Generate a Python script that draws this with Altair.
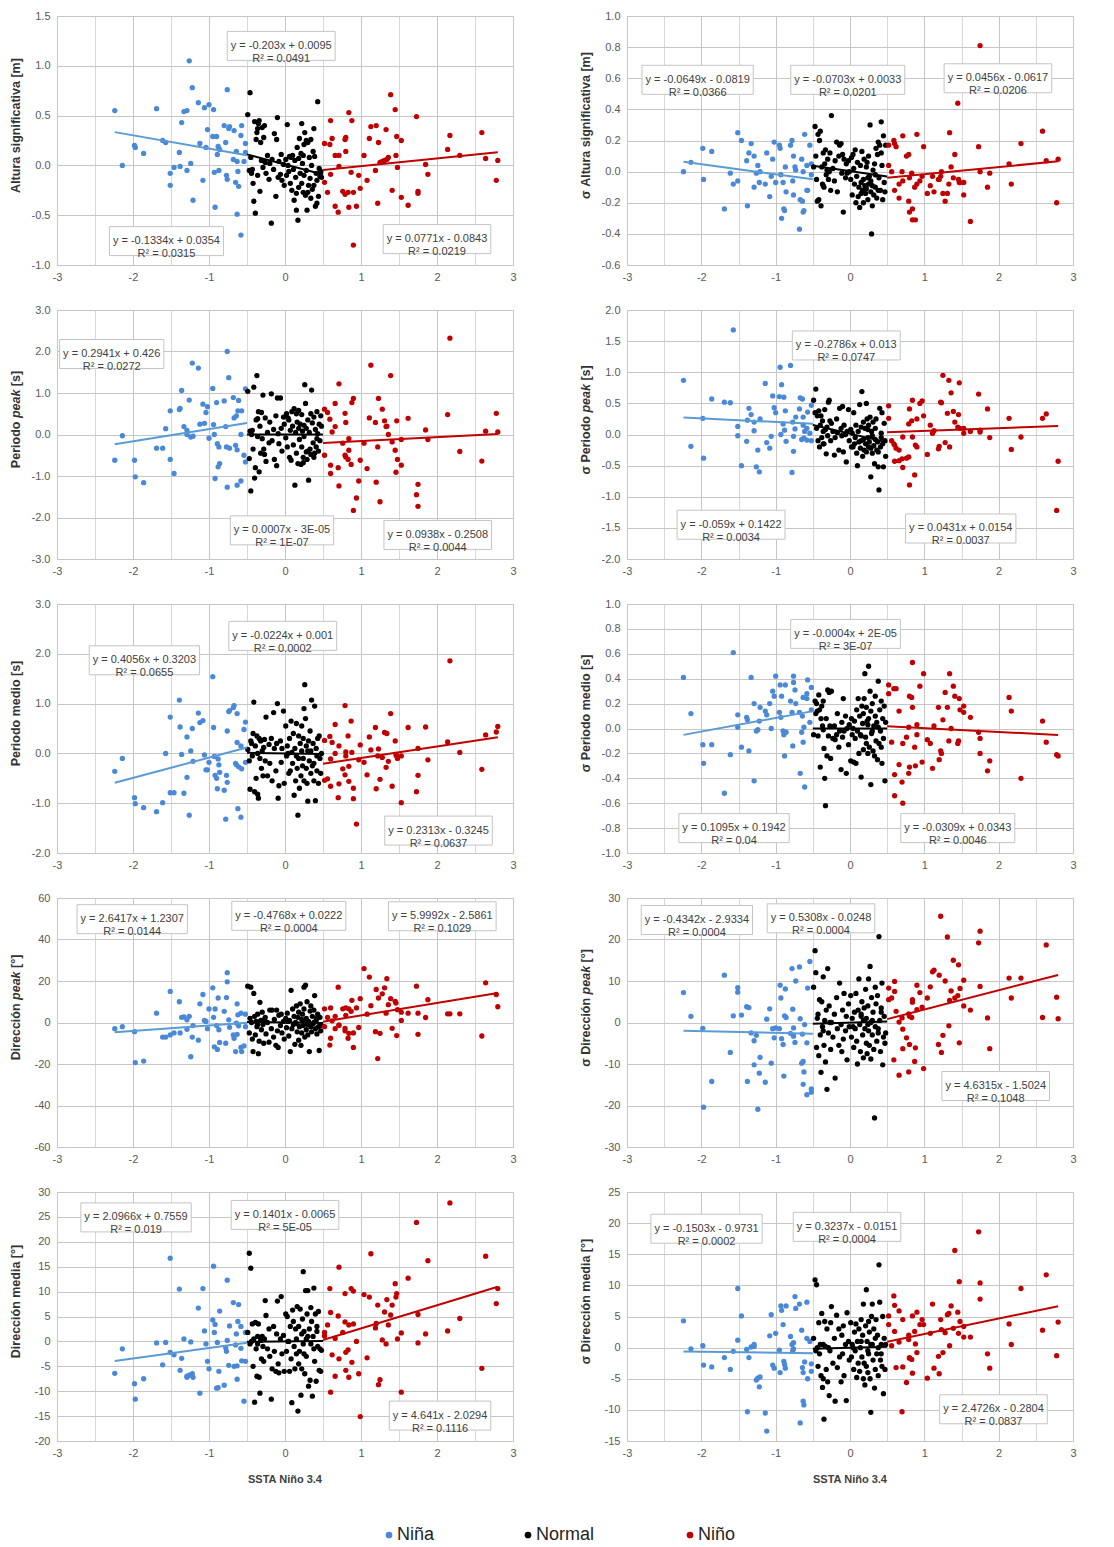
import altair as alt
import pandas as pd

GROUPS = ["Niña", "Normal", "Niño"]

# ---------------- shared SSTA Niño 3.4 values (x) ----------------
NINA_X = [-2.24, -2.14, -1.98, -1.97, -1.86, -1.69, -1.61, -1.57, -1.51, -1.51,
          -1.46, -1.39, -1.38, -1.36, -1.33, -1.29, -1.29, -1.26, -1.24, -1.22,
          -1.21, -1.14, -1.12, -1.08, -1.06, -1.04, -1.02, -1.00, -0.95, -0.94,
          -0.93, -0.92, -0.90, -0.89, -0.88, -0.87, -0.86, -0.80, -0.78, -0.77,
          -0.76, -0.76, -0.74, -0.73, -0.68, -0.67, -0.65, -0.64, -0.63, -0.63,
          -0.62, -0.61, -0.58, -0.58, -0.57, -0.54, -0.52, -0.52]
NORMAL_X = [-0.49, -0.47, -0.46, -0.45, -0.43, -0.42, -0.41, -0.40, -0.39, -0.38,
            -0.37, -0.36, -0.35, -0.34, -0.33, -0.32, -0.31, -0.30, -0.29, -0.28,
            -0.26, -0.25, -0.23, -0.21, -0.20, -0.18, -0.17, -0.15, -0.14, -0.12,
            -0.11, -0.10, -0.09, -0.08, -0.06, -0.05, -0.04, -0.02, -0.01, 0.01,
            0.02, 0.03, 0.05, 0.06, 0.07, 0.08, 0.09, 0.10, 0.11, 0.12,
            0.13, 0.14, 0.15, 0.16, 0.17, 0.18, 0.18, 0.19, 0.20, 0.21,
            0.22, 0.22, 0.23, 0.24, 0.25, 0.25, 0.26, 0.27, 0.28, 0.28,
            0.29, 0.30, 0.31, 0.32, 0.33, 0.34, 0.34, 0.35, 0.36, 0.37,
            0.38, 0.39, 0.40, 0.41, 0.42, 0.43, 0.44, 0.45, 0.46, 0.47,
            -0.44, -0.36, -0.27, 0.04, 0.15, 0.24, 0.30, 0.38, 0.42, 0.48]
NINO_X = [0.52, 0.52, 0.56, 0.59, 0.60, 0.60, 0.62, 0.66, 0.66, 0.70,
          0.71, 0.71, 0.76, 0.79, 0.79, 0.80, 0.80, 0.83, 0.84, 0.84,
          0.87, 0.88, 0.90, 0.90, 0.94, 0.97, 0.99, 1.04, 1.08, 1.11,
          1.13, 1.19, 1.20, 1.22, 1.23, 1.25, 1.28, 1.31, 1.33, 1.34,
          1.36, 1.39, 1.41, 1.45, 1.46, 1.47, 1.48, 1.53, 1.53, 1.62,
          1.73, 1.75, 1.75, 1.85, 1.88, 2.14, 2.17, 2.30, 2.59, 2.64,
          2.78, 2.80]

# ---------------- Altura significativa [m] ----------------
HS_NINA = [0.55, 0.00, 0.20, 0.18, 0.12, 0.57, 0.25, 0.23, -0.08, -0.20,
           -0.02, 0.13, -0.01, 0.43, 0.54, 0.55, -0.05, 1.05, 0.02, 0.78,
           -0.35, 0.63, 0.22, -0.15, 0.58, 0.18, 0.36, 0.61, 0.29, 0.56,
           -0.07, -0.42, 0.29, 0.11, 0.19, -0.05, 0.16, 0.40, 0.23, -0.10,
           0.76, -0.14, 0.37, 0.39, 0.06, 0.35, -0.17, 0.14, 0.04, -0.49,
           -0.06, -0.21, 0.30, -0.70, 0.40, 0.04, 0.22, 0.13]
HS_NORMAL = [0.51, -0.05, 0.73, 0.08, -0.04, -0.18, -0.36, 0.44, -0.48, 0.26,
             0.33, -0.10, 0.42, 0.45, -0.26, 0.23, 0.05, 0.38, -0.02, 0.28,
             0.03, -0.08, 0.10, -0.14, 0.02, -0.58, 0.06, -0.04, 0.32, -0.31,
             0.26, 0.48, -0.12, 0.04, -0.09, 0.11, -0.15, 0.01, -0.20, 0.06,
             -0.10, 0.41, -0.06, 0.09, -0.18, 0.08, -0.25, 0.10, -0.04, -0.35,
             0.05, -0.12, -0.45, 0.18, -0.55, 0.07, -0.22, 0.27, -0.08, 0.12,
             0.42, -0.18, 0.02, -0.27, 0.21, -0.10, 0.33, -0.30, 0.25, -0.05,
             -0.45, 0.23, -0.20, 0.08, -0.13, 0.26, -0.33, 0.00, -0.24, 0.14,
             0.37, 0.09, -0.41, -0.08, -0.15, 0.64, -0.31, -0.03, -0.11, -0.06,
             -0.08, 0.37, 0.40, 0.00, -0.28, 0.10, -0.27, -0.20, -0.38, -0.12]
HS_NINO = [0.22, -0.17, -0.27, 0.21, 0.45, -0.09, 0.27, -0.41, 0.10, -0.47,
           0.10, -0.01, -0.26, -0.29, 0.26, 0.28, 0.14, -0.27, 0.53, -0.42,
           -0.07, 0.45, -0.27, -0.80, -0.41, -0.10, -0.23, 0.10, -0.15, 0.27,
           0.39, -0.05, 0.40, -0.38, 0.23, 0.03, 0.04, 0.05, 0.36, 0.06,
           0.08, 0.71, -0.25, 0.56, 0.10, 0.29, -0.02, 0.25, -0.32, -0.40,
           0.49, -0.26, -0.28, 0.01, -0.09, 0.16, 0.30, 0.10, 0.33, 0.07,
           -0.15, 0.05]

# ---------------- σ Altura significativa [m] ----------------
SDHS_NINA = [0.00, 0.06, 0.15, -0.05, 0.13, -0.24, -0.01, -0.08, 0.25, -0.06,
             0.20, 0.07, -0.22, 0.12, 0.18, 0.10, -0.10, -0.01, 0.04, -0.07,
             0.00, -0.08, 0.12, -0.16, -0.03, 0.08, 0.19, -0.07, 0.17, 0.15,
             -0.02, -0.30, -0.07, -0.24, -0.25, 0.03, -0.13, 0.17, 0.20, -0.06,
             0.10, -0.15, 0.03, 0.01, -0.37, -0.18, 0.08, -0.19, -0.26, 0.00,
             -0.25, 0.24, 0.04, -0.12, -0.12, 0.17, 0.05, -0.02]
SDHS_NORMAL = [0.03, 0.29, 0.10, -0.05, 0.24, -0.18, 0.20, 0.26, -0.22, 0.03,
               -0.08, 0.12, -0.10, 0.05, 0.14, -0.02, 0.01, 0.08, -0.05, 0.00,
               -0.12, 0.36, 0.02, -0.06, 0.07, 0.19, -0.13, 0.10, 0.17, 0.18,
               -0.01, 0.11, -0.26, 0.08, -0.04, 0.05, -0.01, 0.07, 0.00, -0.05,
               0.09, -0.15, 0.02, -0.08, 0.14, -0.20, -0.03, 0.06, -0.16, -0.10,
               -0.23, 0.04, -0.07, 0.13, -0.12, -0.05, -0.20, 0.08, -0.09, -0.14,
               0.03, -0.11, 0.06, -0.18, -0.08, 0.10, -0.03, 0.30, -0.13, -0.06,
               -0.40, -0.22, 0.01, -0.15, 0.05, -0.02, -0.10, 0.15, -0.17, 0.11,
               0.19, -0.04, 0.17, -0.12, 0.32, 0.04, -0.18, 0.23, -0.07, -0.13,
               -0.19, -0.09, 0.12, 0.11, -0.14, -0.04, -0.09, -0.12, 0.12, 0.17]
SDHS_NINO = [0.17, 0.04, 0.00, 0.20, 0.18, -0.12, 0.16, -0.08, -0.17, 0.00,
             0.23, -0.06, 0.10, 0.11, -0.19, -0.26, -0.04, -0.01, -0.24, -0.31,
             -0.10, -0.31, 0.24, -0.08, -0.06, -0.03, 0.16, -0.14, -0.09, -0.03,
             -0.13, -0.05, -0.05, -0.03, 0.00, -0.14, -0.19, -0.14, -0.08, 0.25,
             0.03, -0.04, 0.11, 0.44, -0.05, -0.07, -0.07, -0.15, -0.07, -0.32,
             0.16, 0.00, 0.81, -0.10, -0.01, 0.05, -0.08, 0.18, 0.26, 0.07,
             -0.20, 0.08]

# ---------------- Periodo peak [s] ----------------
TP_NINA = [-0.62, -0.03, -0.62, -1.02, -1.16, -0.33, -0.33, 0.14, 0.57, -0.60,
           -0.94, 0.60, 0.63, 1.06, 0.19, 0.10, 0.00, 0.83, -0.06, 1.72,
           -0.04, 1.60, 0.25, 0.73, 0.27, 0.53, 0.67, -0.09, 1.11, 0.24,
           0.00, -1.06, 0.77, -0.22, -0.78, -0.30, -0.70, 0.81, 0.19, -0.30,
           2.00, -1.27, 1.37, -0.33, 0.89, 0.40, -0.26, 0.45, -1.22, -0.37,
           0.57, 0.82, -1.12, 0.00, 0.57, -0.50, 1.10, -0.66]
TP_NORMAL = [1.04, -0.58, 0.08, -1.36, 0.10, -0.35, 1.14, -1.05, -0.80, 0.35,
             1.42, -0.05, 0.55, -0.90, 0.20, -0.45, 0.53, -0.10, 0.95, -0.35,
             0.40, -0.65, 0.05, -0.20, 0.30, 0.98, -0.15, 0.12, -0.60, 0.45,
             -0.75, 0.88, 0.02, -0.22, 0.88, 0.15, -0.40, 0.42, 0.25, -0.08,
             0.50, -0.30, 0.35, -0.55, 0.10, -0.62, 0.55, 0.20, -0.25, 0.62,
             -1.22, 0.05, -0.45, 0.30, -0.70, 0.15, 0.58, -0.12, 0.25, -0.72,
             0.48, -0.30, 0.08, -0.55, 0.22, -0.05, 1.20, 0.75, -0.42, 0.15,
             -0.60, 0.35, -1.10, 0.05, -0.35, 0.50, -0.48, 1.07, 0.28, -0.20,
             0.42, -0.45, 0.12, -0.30, 0.55, 0.02, -0.40, 0.25, -0.15, 0.45,
             0.00, 0.38, -0.48, 0.40, 0.50, -0.68, -0.40, -0.55, -0.10, 0.20]
TP_NINO = [0.61, -0.50, 0.53, 0.37, -0.74, -0.94, 0.06, 0.19, 0.75, -0.80,
           1.22, -1.24, -0.21, 0.51, -0.50, 0.29, -0.54, -0.60, -0.10, -0.38,
           -0.72, 0.77, 0.87, -1.83, -1.53, -1.12, -0.62, -0.21, -0.82, 0.40,
           1.67, 0.29, -1.15, -0.30, 0.87, -1.62, 0.61, 0.33, 0.19, 0.20,
           0.00, 1.42, -0.18, -0.38, -0.91, 0.33, -0.60, -0.74, -0.12, 0.39,
           -1.45, -1.20, -1.73, 0.11, -0.12, 0.48, 2.32, -0.41, -0.64, 0.08,
           0.51, 0.06]

# ---------------- σ Periodo peak [s] ----------------
SDTP_NINA = [0.87, -0.19, 0.26, -0.38, 0.57, 0.52, 0.51, 1.68, -0.02, 0.13,
             -0.50, -0.11, 0.23, 0.42, 0.32, 0.20, 0.06, -0.52, -0.25, -0.60,
             0.25, 0.82, -0.13, -0.22, -0.03, 0.62, 0.43, 0.35, 0.61, 1.08,
             0.00, 0.80, 0.17, 0.60, 0.07, 0.38, -0.11, 1.11, -0.61, 0.20,
             -0.27, -0.03, 0.09, 0.28, 0.41, 0.59, -0.08, 0.57, 0.28, 0.15,
             -0.06, 0.05, 0.10, -0.09, 0.36, 0.02, -0.10, 0.47]
SDTP_NORMAL = [0.55, 0.35, 0.73, 0.10, -0.10, 0.38, -0.20, 0.15, 0.30, -0.05,
               0.22, 0.05, -0.15, 0.40, 0.08, -0.31, 0.12, -0.02, 0.52, 0.55,
               -0.10, 0.18, 0.05, -0.33, -0.05, 0.25, 0.03, -0.25, 0.42, 0.10,
               -0.02, 0.45, -0.28, 0.15, 0.00, -0.44, 0.05, 0.40, -0.10, 0.08,
               -0.20, 0.02, 0.35, -0.15, -0.05, 0.15, -0.30, -0.50, 0.05, -0.12,
               0.48, -0.22, 0.12, 0.69, -0.35, -0.08, 0.20, -0.25, 0.10, -0.15,
               0.50, -0.28, 0.25, -0.05, -0.20, 0.15, -0.12, 0.28, -0.68, -0.22,
               0.05, -0.30, 0.20, -0.18, -0.47, 0.10, -0.08, 0.25, -0.25, -0.12,
               -0.52, -0.89, 0.42, -0.20, -0.05, 0.35, -0.15, -0.52, 0.18, -0.10,
               0.30, -0.15, 0.22, -0.20, -0.10, 0.08, -0.02, -0.28, 0.02, -0.35]
SDTP_NINO = [0.26, 0.46, -0.10, -0.15, -0.17, -0.43, -0.22, -0.25, -0.42, -0.39,
             -0.53, -0.04, -0.38, 0.17, -0.36, -0.81, 0.41, 0.22, 0.55, -0.04,
             -0.65, -0.17, -0.20, 0.25, 0.50, 0.54, 0.30, -0.32, 0.15, 0.02,
             0.06, -0.23, -0.19, 0.52, 0.51, 0.95, -0.13, 0.34, 0.87, -0.20,
             0.67, 0.37, 0.20, 0.12, 0.32, 0.83, 0.10, 0.02, 0.10, 0.05,
             0.65, 0.04, 0.07, 0.41, -0.05, 0.26, -0.24, -0.04, 0.26, 0.33,
             -1.22, -0.43]

# ---------------- Periodo medio [s] ----------------
TM_NINA = [-0.36, -0.10, -0.89, -1.01, -1.09, -1.17, -0.99, 0.00, 0.73, -0.79,
           -0.79, 1.07, 0.53, -0.02, -0.80, 0.33, -0.48, -1.24, 0.05, 0.50,
           -0.16, 0.81, 0.62, 0.66, -0.03, -0.33, -0.33, -0.18, 1.54, 0.52,
           -0.06, -0.44, -0.50, -0.71, -0.11, -0.23, -0.38, -0.74, -1.32, -0.44,
           0.45, -0.58, 0.84, 0.86, 0.92, 0.96, -0.20, -0.23, 0.80, 0.22,
           -1.11, -0.27, -1.28, 0.15, -0.31, 0.48, 0.63, -0.18]
TM_NORMAL = [0.08, -0.15, -0.72, 0.25, -0.05, 0.40, 1.03, -0.77, 0.15, -0.50,
             0.35, -0.82, -0.90, 0.30, -0.10, 0.25, -0.30, 0.05, -0.45, 0.12,
             -0.15, 0.73, -0.45, 0.18, -0.20, 0.30, -0.55, 0.82, 0.10, -0.35,
             0.20, 1.00, -0.90, -0.65, 0.25, -0.18, 0.10, 0.85, -0.60, 0.55,
             -0.05, 0.15, -0.40, 0.30, -0.35, 0.65, 0.02, -0.20, 0.40, -0.84,
             0.10, -0.55, 0.60, -0.30, -1.24, 0.35, -0.10, -0.70, 0.20, -0.45,
             0.05, 0.55, -0.25, 0.30, 0.90, -0.55, 1.38, 0.70, -0.30, 0.15,
             -0.60, -0.96, 0.25, -0.15, 0.45, -0.40, 0.05, 1.07, -0.25, 0.20,
             -0.55, 0.95, -0.95, 0.10, -0.35, 0.30, -0.60, 0.35, -0.10, -0.40,
             0.20, 0.00, 0.28, 0.00, -0.05, -0.10, 0.05, -0.20, -0.05, 0.00]
TM_NINO = [0.26, -0.54, -0.51, 0.34, -0.11, -0.66, 0.22, 0.58, 0.00, -0.89,
           -0.61, 0.15, -0.31, 0.96, -0.43, -0.05, 0.03, 0.35, -0.56, -0.26,
           0.65, 0.02, -0.70, -0.91, -1.42, -0.13, 0.17, -0.18, -0.43, 0.33,
           0.07, 0.52, -0.71, -0.05, 0.09, -0.52, -0.08, 0.42, -0.28, 0.40,
           -0.16, 0.80, -0.66, 0.25, -0.03, -0.05, -0.10, -0.99, -0.05, 0.52,
           -0.77, -0.44, 0.10, 0.53, -0.13, 0.23, 1.86, 0.02, -0.32, 0.37,
           0.43, 0.54]

# ---------------- σ Periodo medio [s] ----------------
SDTM_NINA = [0.41, 0.12, -0.13, -0.28, -0.13, -0.52, -0.21, 0.61, 0.01, 0.11,
             -0.15, 0.09, 0.07, -0.18, 0.41, 0.20, -0.42, -0.02, -0.01, 0.06,
             0.17, 0.14, 0.11, 0.20, 0.00, 0.30, 0.26, 0.42, 0.13, 0.35,
             0.09, 0.26, -0.02, -0.05, -0.22, 0.35, -0.03, 0.22, 0.13, -0.14,
             0.42, 0.37, 0.31, 0.20, 0.13, -0.36, -0.03, 0.10, -0.11, 0.25,
             0.01, -0.47, 0.28, 0.24, 0.39, 0.05, 0.15, 0.33]
SDTM_NORMAL = [-0.05, 0.22, 0.12, 0.20, -0.06, 0.27, 0.15, -0.31, 0.08, 0.18,
               0.02, 0.22, -0.16, -0.40, -0.62, 0.08, -0.22, 0.31, -0.06, 0.29,
               -0.24, 0.30, -0.08, 0.02, -0.09, -0.05, 0.12, -0.15, -0.02, -0.33,
               0.05, -0.07, 0.24, -0.02, 0.10, -0.36, 0.00, -0.13, 0.03, -0.26,
               0.08, -0.05, -0.27, 0.06, -0.08, -0.28, 0.15, -0.02, 0.24, -0.20,
               0.10, -0.05, -0.39, 0.18, 0.04, -0.17, 0.12, 0.24, 0.44, -0.07,
               0.17, -0.12, 0.06, -0.20, 0.50, 0.08, -0.15, 0.30, -0.45, 0.14,
               -0.04, 0.20, -0.18, 0.02, -0.22, 0.10, 0.26, -0.10, 0.05, -0.25,
               0.38, -0.12, 0.15, -0.02, 0.22, -0.28, 0.08, -0.08, 0.18, -0.42,
               0.14, -0.01, 0.02, 0.00, -0.06, 0.03, -0.02, 0.01, -0.15, 0.05]
SDTM_NINO = [0.28, 0.35, -0.11, 0.32, -0.37, -0.54, 0.32, 0.14, -0.29, -0.43,
             -0.60, -0.12, -0.07, 0.01, -0.36, -0.31, 0.26, 0.25, 0.53, 0.17,
             -0.15, -0.30, -0.05, 0.03, 0.34, -0.27, 0.44, -0.09, -0.12, -0.32,
             0.02, 0.17, -0.25, -0.18, -0.20, 0.07, 0.29, 0.17, -0.10, 0.44,
             0.00, 0.34, 0.26, -0.12, -0.10, 0.24, 0.15, 0.13, 0.18, 0.09,
             -0.03, -0.08, -0.20, -0.34, -0.26, 0.25, 0.14, -0.40, 0.06, -0.11,
             -0.21, -0.22]

# ---------------- Dirección peak [°] ----------------
DP_NINA = [-3.0, -2.0, -4.4, -19.3, -18.6, 4.5, -7.0, -7.0, 15.0, -6.0,
           -5.0, 10.0, -5.0, 2.5, 2.7, 1.3, -3.3, 3.0, -16.5, -7.0,
           -1.5, -8.5, 9.0, 13.5, 1.0, 0.5, -3.0, 6.5, 16.7, 2.5,
           -11.7, 6.5, -1.5, -13.0, 11.8, -3.5, -9.6, 5.4, -10.0, 12.0,
           24.0, 19.6, 1.3, -2.3, -6.0, -7.6, -14.0, -0.3, 9.0, -5.7,
           3.7, -1.6, 4.5, -12.0, -14.0, -11.3, 4.0, -2.0]
DP_NORMAL = [17.5, -5.0, 2.0, 17.0, -8.0, -14.0, 14.0, 3.0, -6.0, 0.5,
             -2.0, 4.0, -15.0, -9.0, 9.7, 1.0, -3.5, 5.0, -1.0, -10.0,
             2.5, -5.5, 0.0, -9.5, 6.0, -3.0, 6.0, -7.0, 1.5, -11.0,
             6.0, -4.0, -12.0, 3.5, -1.5, 4.0, -5.0, 0.5, -8.0, 2.0,
             -2.5, 4.5, -6.5, 1.0, -14.0, 15.5, -3.0, 6.5, -1.0, 3.0,
             -10.5, 0.0, 8.0, -4.5, 2.5, -8.5, 5.0, -2.0, 9.0, -11.0,
             1.5, -5.0, 4.0, -1.5, 17.0, 6.5, -7.0, 18.0, -3.5, 2.0,
             10.0, -6.0, 0.5, -14.0, 5.5, -2.0, 8.0, -4.5, 3.0, -0.5,
             6.0, 13.0, -3.0, 1.0, -5.5, 4.0, -2.0, -13.5, 2.5, -4.0,
             0.0, -1.0, 1.5, 0.5, -0.5, 1.0, -1.0, 0.0, 2.0, -1.5]
DP_NINO = [6.6, -2.0, 2.4, -10.9, 7.0, -7.6, 0.8, -3.0, 3.0, 17.0,
           -1.1, -1.5, 6.6, -2.8, -4.0, 3.4, 7.0, -7.6, 6.6, -5.2,
           5.4, 10.7, -5.0, -12.0, 7.0, -2.4, 11.5, 26.0, 4.0, 21.9,
           8.1, -4.4, 15.9, -17.4, 11.8, -5.2, 13.8, 16.7, 4.5, 21.1,
           8.6, 11.5, -2.8, 10.2, 9.4, -6.3, 6.2, 5.0, 1.0, 4.5,
           17.5, -5.7, 4.5, 2.4, 11.0, 4.2, 4.2, 4.2, -6.5, 19.1,
           13.5, 7.6]

# ---------------- σ Dirección peak [°] ----------------
SDDP_NINA = [7.2, 1.5, -1.4, -20.4, -14.2, 11.4, -7.2, 1.6, 8.4, 7.3,
             1.8, 3.8, -14.2, 3.6, -2.5, -10.2, -4.4, -3.1, -20.9, -12.2,
             -8.4, -14.4, 0.8, 3.3, -9.8, -1.5, -3.7, -1.3, -1.5, 9.0,
             5.9, -3.9, -5.3, -12.9, 1.6, 8.1, 1.2, -2.6, 13.0, 3.2,
             -1.3, -3.3, -4.8, 10.0, 13.4, 0.9, -9.8, -2.8, -14.9, -9.4,
             -11.9, -0.5, -4.9, -17.4, 8.3, 14.7, -16.8, -16.0]
SDDP_NORMAL = [8.5, 17.3, 12.0, -6.0, 2.0, -8.0, 5.5, -3.0, -12.0, 5.0,
               -1.0, 11.0, -5.5, 0.5, -9.5, 3.0, -16.1, 13.0, -2.5, 4.0,
               -6.5, 0.0, -3.5, 2.0, -13.4, 6.0, -1.5, -5.5, 9.5, -0.5,
               -7.0, 3.0, -4.0, 7.0, -2.0, 1.5, -9.0, 4.5, -1.0, 6.5,
               -3.5, 1.0, -6.0, 2.5, -1.5, 7.0, -4.5, -10.0, 3.0, 10.5,
               -0.5, -7.0, 2.0, 5.0, -3.0, 0.5, -8.5, 3.5, -1.5, 8.0,
               -5.0, 1.0, -7.5, 4.0, -2.0, 10.5, -5.5, 13.5, 0.0, -8.8,
               6.0, -3.0, 2.5, -6.5, -23.0, 8.5, -1.0, 4.5, -4.5, 6.5,
               -2.5, 20.7, 0.5, -7.0, 3.5, 9.5, -10.2, -3.5, 1.5, -5.0,
               1.0, -2.0, 0.0, -1.0, 1.5, -0.5, 0.5, -1.5, 2.5, -2.5]
SDDP_NINO = [8.3, 5.5, 5.9, -9.0, 9.9, 7.5, 2.7, -12.7, 0.1, 1.1,
             -1.6, -6.3, -3.7, 2.1, -11.9, -5.3, 1.5, 1.2, 5.5, 4.9,
             -9.4, -6.1, 3.1, 9.0, 7.2, 3.7, -11.1, 5.9, 8.6, 12.2,
             12.6, -5.3, 11.4, 25.6, -7.2, -3.1, 10.0, 20.6, -0.8, 5.3,
             7.6, 15.0, 5.9, 6.5, 13.9, -4.9, 8.2, 10.2, 4.0, 3.0,
             19.2, 22.0, 8.7, 1.1, -6.3, 10.7, 5.9, 10.7, 1.2, 18.7,
             6.1, 0.9]

# ---------------- Dirección media [°] ----------------
DM_NINA = [-6.4, -1.5, -8.5, -11.6, -7.5, -0.3, -4.7, -0.2, 16.7, -2.2,
           -2.7, 10.5, -5.8, -3.4, 0.5, -7.0, -7.2, -6.8, -0.1, -6.5,
           -7.2, 6.7, -10.4, 10.6, 2.1, -0.5, -4.0, -5.5, 4.3, 15.1,
           1.8, 3.4, -9.4, -0.2, -9.3, -6.0, 6.1, -8.8, -1.3, -2.0,
           0.2, 12.3, -4.8, 3.1, 7.8, -5.0, -0.7, 1.5, -7.6, -4.9,
           4.0, 7.4, 3.0, -1.4, -3.9, -12.0, 1.8, -4.0]
DM_NORMAL = [1.8, 17.7, -0.5, 14.7, 3.5, -5.0, 0.5, -12.2, 3.8, -1.5,
             -7.0, 1.0, 3.5, -7.2, -10.4, 0.2, -3.5, 1.0, -1.0, -4.0,
             8.2, 5.2, -1.5, 2.5, -3.0, -11.6, -5.5, 3.0, -2.0, -6.0,
             1.5, 8.1, -4.5, -6.3, 0.5, 9.0, -2.5, 1.2, -6.0, 5.5,
             -2.0, 5.0, 0.0, -6.0, 3.0, -3.5, -12.3, 6.3, 4.0, -1.0,
             -5.5, 2.5, -2.5, 7.0, -14.0, -4.5, 3.0, -2.0, 6.5, -10.8,
             1.5, -5.5, 4.5, 14.0, -2.5, 2.0, -6.5, 10.2, 0.5, -3.0,
             5.5, 10.2, -9.0, 2.5, -7.8, 6.8, -0.5, 4.0, -11.0, 1.0,
             10.7, -4.0, 5.5, -8.0, 2.0, -1.0, 6.0, -5.8, -1.5, -6.0,
             0.0, -0.5, 0.5, 0.0, 0.5, -0.5, 1.0, -1.5, 3.0, -1.8]
DM_NINO = [1.8, 1.1, 3.3, 10.6, 5.8, -10.2, -2.7, -7.0, 0.6, 5.1,
           -3.5, 14.9, 1.8, 9.6, 3.9, -2.2, -5.8, -1.7, 3.3, -7.2,
           10.6, -4.2, 3.5, 10.1, 0.0, -6.5, -15.1, 9.4, -3.3, 8.9,
           17.6, 2.7, 3.6, 7.3, -8.7, -7.7, 0.3, 5.9, -0.5, 8.4,
           3.3, 5.3, 7.3, 11.6, 8.9, 9.6, 0.5, -10.2, 1.7, 12.7,
           23.9, 5.4, -0.3, 1.5, 16.2, 2.1, 27.8, 4.6, -5.4, 17.1,
           7.6, 10.6]

# ---------------- σ Dirección media [°] ----------------
SDDM_NINA = [4.3, -0.2, 0.3, -2.8, -3.1, -1.6, -3.5, -0.6, 9.5, 1.2,
             5.1, -0.3, -10.3, -1.6, 0.1, 0.2, 0.5, -5.2, -4.9, -6.3,
             -4.7, -10.5, -13.4, 1.9, 5.3, -2.8, -3.3, 2.3, -0.4, -4.0,
             6.7, 6.0, 3.7, -2.2, -2.7, -3.3, 6.7, 1.8, 0.5, -0.5,
             -0.2, 0.8, 8.2, 6.3, 7.0, -12.1, 2.8, -3.2, -4.0, -8.6,
             -9.2, -2.3, 7.3, 1.5, -5.0, 1.0, -2.6, -3.8]
SDDM_NORMAL = [1.5, 10.9, -0.5, 10.1, -3.0, 4.0, -1.0, 0.5, -4.5, 5.5,
               -6.4, -5.0, -11.5, 4.2, 0.2, -3.5, 3.0, -5.5, 0.0, -7.7,
               4.0, 6.6, -2.5, 1.5, -8.6, 5.2, -3.2, 3.0, -1.5, -5.5,
               2.0, -1.0, 3.5, -4.5, 0.5, -8.5, 5.6, 1.0, -2.0, 4.0,
               -1.5, 0.5, -3.5, 2.5, -0.5, 3.8, -4.8, 1.0, -2.5, 3.0,
               -3.8, 0.0, 4.5, -1.5, 2.0, -5.0, 7.0, -2.5, -6.0, 3.5,
               9.3, -3.0, 1.0, -4.0, 4.2, -1.0, 2.5, -5.0, -10.4, 0.5,
               5.0, 7.0, -2.0, 3.0, -6.5, 1.5, -3.5, 4.5, -1.0, 2.0,
               -4.5, 13.3, 7.3, -2.0, 0.5, -3.0, 5.0, -7.4, 1.5, -3.5,
               0.0, 0.5, -0.5, 0.0, 1.0, -0.5, 0.5, 0.0, -1.0, 0.5]
SDDM_NINO = [5.1, 3.7, 0.3, 8.3, 6.8, 2.6, -3.2, 5.9, 0.9, -10.3,
             4.5, -3.1, -5.6, 1.3, 2.0, -1.7, -1.6, -1.9, -4.1, 5.1,
             2.6, 0.6, -0.8, 5.7, 3.7, 4.5, 3.7, -4.9, 2.3, 7.0,
             -3.3, -1.4, -4.2, 4.5, 2.9, -0.8, 2.4, 5.3, 5.5, 0.3,
             6.7, 3.1, 15.6, 5.7, 2.3, 10.6, 4.2, 3.4, 1.7, 1.7,
             18.6, 10.4, 7.8, -1.0, -3.3, 3.8, 0.5, 9.5, 2.8, 11.7,
             -1.3, 4.1]

Y_DATA = {
    "hs": (HS_NINA, HS_NORMAL, HS_NINO),
    "sd_hs": (SDHS_NINA, SDHS_NORMAL, SDHS_NINO),
    "tp": (TP_NINA, TP_NORMAL, TP_NINO),
    "sd_tp": (SDTP_NINA, SDTP_NORMAL, SDTP_NINO),
    "tm": (TM_NINA, TM_NORMAL, TM_NINO),
    "sd_tm": (SDTM_NINA, SDTM_NORMAL, SDTM_NINO),
    "dp": (DP_NINA, DP_NORMAL, DP_NINO),
    "sd_dp": (SDDP_NINA, SDDP_NORMAL, SDDP_NINO),
    "dm": (DM_NINA, DM_NORMAL, DM_NINO),
    "sd_dm": (SDDM_NINA, SDDM_NORMAL, SDDM_NINO),
}

# regression coefficients (slope, intercept) shown in the chart: Niña, Normal, Niño
REG = {
    "hs": [(-0.1334, 0.0354), (-0.203, 0.0095), (0.0771, -0.0843)],
    "sd_hs": [(-0.0649, -0.0819), (-0.0703, 0.0033), (0.0456, -0.0617)],
    "tp": [(0.2941, 0.426), (0.0007, -3e-05), (0.0938, -0.2508)],
    "sd_tp": [(-0.059, 0.1422), (-0.2786, 0.013), (0.0431, 0.0154)],
    "tm": [(0.4056, 0.3203), (-0.0224, 0.001), (0.2313, -0.3245)],
    "sd_tm": [(0.1095, 0.1942), (-0.0004, 2e-05), (-0.0309, 0.0343)],
    "dp": [(2.6417, 1.2307), (-0.4768, 0.0222), (5.9992, -2.5861)],
    "sd_dp": [(-0.4342, -2.9334), (0.5308, -0.0248), (4.6315, -1.5024)],
    "dm": [(2.0966, 0.7559), (0.1401, -0.0065), (4.641, -2.0294)],
    "sd_dm": [(-0.1503, -0.9731), (0.3237, -0.0151), (2.4726, -0.2804)],
}

EQ_TEXT = {
    "hs": [("y = -0.1334x + 0.0354", "R² = 0.0315"), ("y = -0.203x + 0.0095", "R² = 0.0491"), ("y = 0.0771x - 0.0843", "R² = 0.0219")],
    "sd_hs": [("y = -0.0649x - 0.0819", "R² = 0.0366"), ("y = -0.0703x + 0.0033", "R² = 0.0201"), ("y = 0.0456x - 0.0617", "R² = 0.0206")],
    "tp": [("y = 0.2941x + 0.426", "R² = 0.0272"), ("y = 0.0007x - 3E-05", "R² = 1E-07"), ("y = 0.0938x - 0.2508", "R² = 0.0044")],
    "sd_tp": [("y = -0.059x + 0.1422", "R² = 0.0034"), ("y = -0.2786x + 0.013", "R² = 0.0747"), ("y = 0.0431x + 0.0154", "R² = 0.0037")],
    "tm": [("y = 0.4056x + 0.3203", "R² = 0.0655"), ("y = -0.0224x + 0.001", "R² = 0.0002"), ("y = 0.2313x - 0.3245", "R² = 0.0637")],
    "sd_tm": [("y = 0.1095x + 0.1942", "R² = 0.04"), ("y = -0.0004x + 2E-05", "R² = 3E-07"), ("y = -0.0309x + 0.0343", "R² = 0.0046")],
    "dp": [("y = 2.6417x + 1.2307", "R² = 0.0144"), ("y = -0.4768x + 0.0222", "R² = 0.0004"), ("y = 5.9992x - 2.5861", "R² = 0.1029")],
    "sd_dp": [("y = -0.4342x - 2.9334", "R² = 0.0004"), ("y = 0.5308x - 0.0248", "R² = 0.0004"), ("y = 4.6315x - 1.5024", "R² = 0.1048")],
    "dm": [("y = 2.0966x + 0.7559", "R² = 0.019"), ("y = 0.1401x - 0.0065", "R² = 5E-05"), ("y = 4.641x - 2.0294", "R² = 0.1116")],
    "sd_dm": [("y = -0.1503x - 0.9731", "R² = 0.0002"), ("y = 0.3237x - 0.0151", "R² = 0.0004"), ("y = 2.4726x - 0.2804", "R² = 0.0837")],
}

TITLES = {
    "hs": ("Altura significativa [m]",),
    "sd_hs": ("σ Altura significativa [m]",),
    "tp": ("Periodo", "peak", "[s]"),
    "sd_tp": ("σ Periodo", "peak", "[s]"),
    "tm": ("Periodo medio [s]",),
    "sd_tm": ("σ Periodo medio [s]",),
    "dp": ("Dirección", "peak", "[°]"),
    "sd_dp": ("σ Dirección", "peak", "[°]"),
    "dm": ("Dirección media [°]",),
    "sd_dm": ("σ Dirección media [°]",),
}
X_TITLE = "SSTA Niño 3.4"

# ---------------- layout / style (not data) ----------------
Y_AXIS = {
    "hs": (-1.0, 1.5, 0.5, "f"), "sd_hs": (-0.6, 1.0, 0.2, "f"),
    "tp": (-3.0, 3.0, 1.0, "f"), "sd_tp": (-2.0, 2.0, 0.5, "f"),
    "tm": (-2.0, 3.0, 1.0, "f"), "sd_tm": (-1.0, 1.0, 0.2, "f"),
    "dp": (-60, 60, 20, "d"), "sd_dp": (-30, 30, 10, "d"),
    "dm": (-20, 30, 5, "d"), "sd_dm": (-15, 25, 5, "d"),
}
BOX_POS = {
    "hs": [(-1.56, -0.76), (-0.05, 1.20), (2.0, -0.74)],
    "sd_hs": [(-2.05, 0.59), (-0.03, 0.59), (1.99, 0.60)],
    "tp": [(-2.28, 1.94), (-0.04, -2.31), (2.01, -2.42)],
    "sd_tp": [(-1.60, -1.45), (-0.05, 1.43), (1.49, -1.51)],
    "tm": [(-1.85, 1.87), (-0.03, 2.36), (2.02, -1.55)],
    "sd_tm": [(-1.56, -0.80), (-0.06, 0.76), (1.45, -0.80)],
    "dp": [(-2.01, 49.8), (0.05, 51.4), (2.07, 51.2)],
    "sd_dp": [(-2.06, 24.7), (-0.39, 25.1), (1.96, -15.3)],
    "dm": [(-1.96, 24.9), (0.0, 25.4), (2.04, -14.9)],
    "sd_dm": [(-1.93, 19.1), (-0.04, 19.4), (1.93, -9.9)],
}
ROWS = [("hs", "sd_hs"), ("tp", "sd_tp"), ("tm", "sd_tm"), ("dp", "sd_dp"), ("dm", "sd_dm")]
LINE_X = {"Niña": (min(NINA_X), -0.5), "Normal": (-0.5, 0.5), "Niño": (0.5, max(NINO_X))}

W_LEFT, W_RIGHT, H = 456, 446, 249
BOX_H = 29
FONT = "Liberation Sans"
POINT_COLORS = ["#4a88d8", "#000000", "#c00000"]
LINE_COLORS = ["#5b9bd5", "#000000", "#c00000"]
GRID_MAJOR = "#c6c6c6"
GRID_MINOR = "#d8d8d8"
FRAME = "#bdbdbd"
LABEL_C = "#595959"
TEXT_C = "#404040"
TITLE_C = "#333333"
LEGEND_X = [332, 471, 633]

ARIAL = {' ': 278, '=': 584, '-': 333, '+': 584, '.': 278, 'x': 500, 'y': 500,
         'E': 667, 'R': 722, '²': 333}
ARIAL_BOLD = {'A': 722, 'l': 278, 't': 333, 'u': 611, 'r': 389, 'a': 556, ' ': 278,
              's': 556, 'i': 278, 'g': 611, 'n': 611, 'f': 333, 'c': 556, 'v': 556,
              '[': 333, 'm': 889, ']': 333, 'P': 667, 'e': 556, 'o': 611, 'd': 611,
              'p': 611, 'k': 556, 'D': 722, 'ó': 611, '°': 400, 'σ': 611}


def text_w(s, table, size):
    return sum(table.get(c, 556) for c in s) * size / 1000.0


def tick_values(lo, hi, step):
    n = int(round((hi - lo) / step))
    return [round(lo + i * step, 6) for i in range(n + 1)]


def txt_layer(text, x, y, **kw):
    d = pd.DataFrame({"t": [text]})
    return alt.Chart(d).mark_text(font=FONT, **kw).encode(
        x=alt.value(x), y=alt.value(y), text=alt.Text("t:N"))


def panel(key, width, bottom):
    lo, hi, step, kind = Y_AXIS[key]
    xsc = alt.Scale(domain=[-3, 3], nice=False, zero=False)
    ysc = alt.Scale(domain=[lo, hi], nice=False, zero=False)
    xaxis = alt.Axis(
        values=[round(-3 + 0.5 * i, 1) for i in range(13)],
        labelExpr="datum.value % 1 === 0 ? toString(datum.value) : ''",
        grid=True,
        gridColor={"condition": {"test": "datum.value % 1 === 0", "value": GRID_MAJOR},
                   "value": GRID_MINOR},
        domain=False, ticks=False, labelPadding=6, labelFontSize=11,
        labelColor=LABEL_C, labelOverlap=False, labelFlush=False, labelFont=FONT)
    if kind == "f":
        yexpr = "replace(format(datum.value, '.1f'), '\u2212', '-')"
    else:
        yexpr = "toString(datum.value)"
    yaxis = alt.Axis(
        values=tick_values(lo, hi, step), labelExpr=yexpr, grid=True,
        gridColor=GRID_MAJOR, domain=False, ticks=False, labelPadding=7,
        labelFontSize=11, labelColor=LABEL_C, labelOverlap=False,
        labelFlush=False, labelFont=FONT)

    def X(f):
        return alt.X(f, scale=xsc, axis=xaxis, title=None)

    def Y(f):
        return alt.Y(f, scale=ysc, axis=yaxis, title=None)

    recs = []
    for g, xv, yv in zip(GROUPS, (NINA_X, NORMAL_X, NINO_X), Y_DATA[key]):
        assert len(xv) == len(yv), (key, g, len(xv), len(yv))
        recs += [{"x": a, "y": b, "grupo": g} for a, b in zip(xv, yv)]
    df = pd.DataFrame(recs)

    lrec = []
    for g, (m, c) in zip(GROUPS, REG[key]):
        for xv in LINE_X[g]:
            lrec.append({"x": xv, "y": m * xv + c, "grupo": g})
    dl = pd.DataFrame(lrec)

    brec = []
    for (cx, cy), (l1, l2) in zip(BOX_POS[key], EQ_TEXT[key]):
        bw = text_w(l1, ARIAL, 11) + 7
        hw = bw / 2 * 6.0 / width
        hh = BOX_H / 2 * (hi - lo) / H
        brec.append({"x": cx, "y": cy, "x1": cx - hw, "x2": cx + hw,
                     "y1": cy - hh, "y2": cy + hh, "label": l1 + "\n" + l2})
    db = pd.DataFrame(brec)

    pts = alt.Chart(df).mark_circle(size=28, opacity=1).encode(
        x=X("x:Q"), y=Y("y:Q"),
        color=alt.Color("grupo:N", scale=alt.Scale(domain=GROUPS, range=POINT_COLORS), legend=None))
    lines = alt.Chart(dl).mark_line(strokeWidth=2).encode(
        x=X("x:Q"), y=Y("y:Q"),
        stroke=alt.Stroke("grupo:N", scale=alt.Scale(domain=GROUPS, range=LINE_COLORS), legend=None),
        detail="grupo:N")
    boxes = alt.Chart(db).mark_rect(fill="white", stroke="#c4c4c4", strokeWidth=1).encode(
        x=X("x1:Q"), x2=alt.X2("x2:Q", title=None),
        y=Y("y1:Q"), y2=alt.Y2("y2:Q", title=None))
    btxt = alt.Chart(db).mark_text(align="center", baseline="middle", lineBreak="\n",
                                   lineHeight=13, fontSize=11, font=FONT, color=TEXT_C).encode(
        x=X("x:Q"), y=Y("y:Q"), text=alt.Text("label:N"))

    layers = [pts, lines, boxes, btxt]

    # y title (with italic "peak" where needed)
    tsize = 12.5
    tx = -41
    target = H / 2 - 15
    parts = TITLES[key]
    common = dict(angle=270, baseline="middle", fontSize=tsize, fontWeight="bold", color=TITLE_C)
    if len(parts) == 1:
        layers.append(txt_layer(parts[0], tx, target, align="center", **common))
    else:
        pre, ital, suf = parts
        w1 = text_w(pre, ARIAL_BOLD, tsize)
        wp = text_w(ital, ARIAL_BOLD, tsize)
        w3 = text_w(suf, ARIAL_BOLD, tsize)
        sp = 278 * tsize / 1000.0
        yc = target - (w1 - w3) / 2
        layers.append(txt_layer(pre, tx, yc + wp / 2 + sp, align="right", **common))
        layers.append(txt_layer(ital, tx, yc, align="center", fontStyle="italic", **common))
        layers.append(txt_layer(suf, tx, yc - wp / 2 - sp, align="left", **common))

    if bottom:
        layers.append(txt_layer(X_TITLE, width / 2, H + 39, align="center", baseline="middle",
                                fontSize=11, fontWeight="bold", color=TEXT_C))

    return alt.layer(*layers).properties(width=width, height=H)


rows = []
for i, (lk, rk) in enumerate(ROWS):
    bottom = i == len(ROWS) - 1
    rows.append(alt.hconcat(panel(lk, W_LEFT, bottom), panel(rk, W_RIGHT, bottom), spacing=62))
grid = alt.vconcat(*rows, spacing=20)

leg_layers = []
for g, px, col in zip(GROUPS, LEGEND_X, POINT_COLORS):
    d = pd.DataFrame({"grupo": [g]})
    leg_layers.append(alt.Chart(d).mark_circle(size=45, opacity=1, color=col).encode(
        x=alt.value(px), y=alt.value(10)))
    leg_layers.append(alt.Chart(d).mark_text(align="left", baseline="middle", dx=8, fontSize=18,
                                             font=FONT, color="#1f1f1f").encode(
        x=alt.value(px), y=alt.value(10), text=alt.Text("grupo:N")))
legend = alt.layer(*leg_layers).properties(
    width=1000, height=20, view=alt.ViewBackground(stroke="transparent"))

chart = alt.vconcat(grid, legend, spacing=38).properties(
    padding={"left": 1, "top": 1, "right": 3, "bottom": 1},
    background="white",
).configure(font=FONT).configure_view(stroke=FRAME, strokeWidth=1)

chart.save("out.html", embed_options={"renderer": "svg", "actions": False})
